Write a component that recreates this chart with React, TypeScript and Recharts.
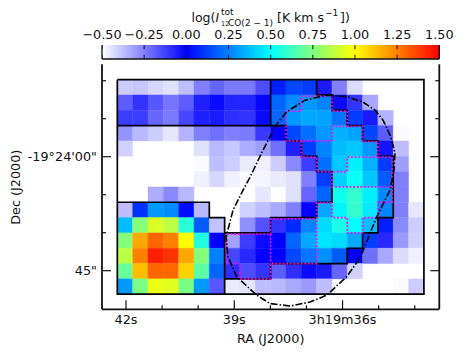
import { ComposedChart, Line, XAxis, YAxis, ReferenceArea, ReferenceLine } from "recharts";

const FONT = "DejaVu Sans";
const INK = "#111";

// log intensity per map pixel, north row first, east column first (null = masked)
const row00 = [-0.4, -0.39, -0.42, -0.44, -0.37, -0.25, -0.2, -0.24, -0.24, -0.15, 0.06, 0.14, 0.12, -0.05, -0.25, -0.43, null, null, null, null];
const row01 = [-0.18, -0.1, -0.17, -0.23, -0.18, -0.06, -0.02, -0.07, -0.07, -0.01, 0.2, 0.27, 0.3, 0.26, -0.02, -0.1, -0.33, null, null, null];
const row02 = [-0.12, -0.12, -0.2, -0.24, -0.14, -0.06, -0.05, -0.09, -0.1, -0.02, 0.2, 0.3, 0.33, 0.32, 0.23, 0.12, -0.05, -0.35, null, null];
const row03 = [-0.29, -0.36, -0.4, -0.45, -0.35, -0.25, -0.22, -0.25, -0.24, -0.11, 0.0, 0.14, 0.22, 0.3, 0.35, 0.32, 0.14, -0.18, -0.49, null];
const row04 = [-0.41, null, null, null, null, -0.44, -0.36, -0.39, -0.34, -0.31, -0.22, -0.06, 0.12, 0.26, 0.37, 0.39, 0.3, -0.04, -0.37, null];
const row05 = [null, null, null, null, null, -0.49, -0.37, -0.4, -0.46, -0.47, -0.4, -0.27, -0.12, 0.22, 0.39, 0.47, 0.35, 0.12, -0.31, null];
const row06 = [null, null, null, null, null, -0.47, -0.42, -0.47, -0.49, -0.48, -0.46, -0.44, -0.25, 0.12, 0.41, 0.52, 0.39, 0.18, -0.25, null];
const row07 = [null, null, -0.34, -0.27, -0.36, null, null, null, null, -0.45, null, -0.44, -0.2, 0.2, 0.53, 0.6, 0.47, 0.27, -0.25, null];
const row08 = [-0.37, 0.1, 0.3, 0.27, 0.02, -0.36, null, null, -0.41, -0.37, -0.33, -0.25, 0.0, 0.33, 0.48, 0.6, 0.46, 0.26, -0.25, -0.45];
const row09 = [0.37, 0.76, 0.93, 0.87, 0.58, 0.18, -0.38, null, -0.28, -0.16, -0.1, 0.08, 0.26, 0.43, 0.55, 0.5, 0.37, 0.06, -0.27, -0.4];
const row10 = [0.76, 1.17, 1.3, 1.25, 1.0, 0.56, 0.0, -0.32, -0.12, -0.02, 0.0, 0.2, 0.33, 0.45, 0.43, 0.33, 0.12, -0.08, -0.3, -0.41];
const row11 = [0.87, 1.25, 1.44, 1.4, 1.17, 0.76, 0.25, -0.14, -0.08, 0.0, 0.0, 0.14, 0.23, 0.28, 0.18, 0.0, -0.22, -0.33, -0.43, -0.47];
const row12 = [0.7, 1.13, 1.3, 1.3, 1.09, 0.68, 0.2, -0.09, -0.15, -0.1, -0.18, -0.09, -0.02, -0.05, -0.2, -0.41, null, null, null, null];
const row13 = [0.3, 0.74, 0.96, 0.94, 0.74, 0.3, -0.17, -0.46, -0.45, -0.37, -0.36, -0.33, -0.3, -0.37, null, null, null, null, -0.49, -0.4];
const mapRows = [row00, row01, row02, row03, row04, row05, row06, row07, row08, row09, row10, row11, row12, row13];

// RA seconds and Dec arcsec offset from -19:24:00
const raTicks = [42, 41, 40, 39, 38, 37, 36, 35, 34];
const raLabels: Record<number, string> = { 42: "42s", 39: "39s", 36: "3h19m36s" };
const decTicks = [10, 5, 0, -5, -10, -15];
const decLabels: Record<number, string> = { 0: "-19°24'00\"", [-15]: "45\"" };
const cbarTicks = [-0.5, -0.25, 0, 0.25, 0.5, 0.75, 1, 1.25, 1.5];

// contours in map pixel units [column, row]
const outerBox = [[0, 0], [20, 0], [20, 14], [0, 14], [0, 0]];
const boxTopLeft = [[0, 3], [10, 3], [10, 0]];
const boxBottomLeft = [[0, 8], [6, 8], [6, 9], [7, 9], [7, 14]];
const contourInner = [[10, 3], [11, 3], [11, 4], [12, 4], [12, 5], [13, 5], [13, 6], [14, 6], [14, 8], [13, 8], [13, 9], [10, 9], [10, 10], [7, 10]];
const contourOuter = [[7, 13], [10, 13], [10, 12], [15, 12], [15, 11], [16, 11], [16, 10], [17, 10], [17, 9], [18, 9], [18, 5], [17, 5], [17, 4], [16, 4], [16, 3], [15, 3], [15, 2], [14, 2], [14, 1], [13, 1], [13, 0]];

const regionTop = [[12, 1.07], [14, 1.07], [14, 2.05], [15, 2.05], [15, 3.05], [14, 3.05], [14, 4], [11, 4], [11, 2.05], [12, 2.05], [12, 1.07]];
const regionMid = [[15, 3.05], [16, 3.05], [16, 4.05], [17, 4.05], [17, 5.05], [15, 5.05], [15, 6], [14, 6], [14, 7], [17.92, 7]];
const regionLow = [[12, 4], [12, 5.05], [13, 5.05], [13, 6], [14, 6]];
const regionRight = [[17, 5.05], [17.92, 5.05], [17.92, 8], [17, 8], [17, 9], [16, 9], [16, 10], [15, 10], [15, 9], [14, 9], [14, 8.05], [13, 8.05], [13, 12], [10, 12], [10, 13], [8, 13], [8, 12], [7.12, 12], [7.12, 10.08], [10, 10.08], [10, 9.08], [13, 9.08]];
const regionDivide = [[10, 10.08], [10, 12]];

const beamEdge = [[13.66, 1.01], [14.96, 1.11], [16.03, 1.47], [16.81, 1.99], [17.33, 2.64], [17.85, 3.75], [18.11, 4.79], [18.05, 5.9], [17.79, 7.21], [16.92, 8.95], [15.83, 11.64], [14.96, 12.86], [13.66, 14.06], [12.57, 14.51], [11.27, 14.77], [9.96, 14.61], [9.09, 14.06], [7.79, 12.86], [7.22, 11.56], [7.09, 10.27], [7.55, 8.51], [8.2, 7.21], [8.66, 6.36], [9.5, 4.6], [10.4, 2.9], [11.05, 2.1], [12.24, 1.34], [13.66, 1.01]];

const RA_EAST = 42.665;
const RA_WEST = 33.32;
const DEC_NORTH = 12.16;
const DEC_SOUTH = -20.08;
const RA_STEP = 0.4247;
const DEC_STEP = 2.017;

const colToRa = (c: number) => RA_EAST - (c + 1) * RA_STEP;
const rowToDec = (r: number) => DEC_NORTH - (r + 1) * DEC_STEP;
const toPoints = (path: number[][]) => path.map(([c, r]) => ({ x: colToRa(c), y: rowToDec(r) }));

function colorOf(v: number) {
  const mix = (a: number[], b: number[], t: number) =>
    `rgb(${a.map((p, i) => Math.round(p + (b[i] - p) * t)).join(",")})`;
  if (v < 0) return mix([255, 255, 255], [0, 0, 255], Math.max(0, (v + 0.5) / 0.5));
  if (v < 0.5) return mix([0, 0, 255], [0, 255, 255], v / 0.5);
  if (v < 1) return mix([0, 255, 255], [255, 255, 0], (v - 0.5) / 0.5);
  return mix([255, 255, 0], [255, 0, 0], Math.min(1, (v - 1) / 0.5));
}

const RaTick = ({ x, y, payload, top }: any) => {
  const major = raLabels[payload.value] !== undefined;
  const len = major ? 9 : 4;
  return (
    <g>
      <line x1={x} x2={x} y1={y} y2={top ? y + len : y - len} stroke={INK} strokeWidth={1.2} />
      {!top && major && (
        <text x={x} y={y + 15} textAnchor="middle" fontFamily={FONT} fontSize={12.8} fill={INK}>
          {raLabels[payload.value]}
        </text>
      )}
    </g>
  );
};

const DecTick = ({ x, y, payload, right }: any) => {
  const label = decLabels[payload.value];
  const len = label ? 9 : 4;
  return (
    <g>
      <line x1={x} x2={right ? x - len : x + len} y1={y} y2={y} stroke={INK} strokeWidth={1.2} />
      {!right && label && (
        <text x={x - 5} y={y + 4.5} textAnchor="end" fontFamily={FONT} fontSize={12.8} fill={INK}>
          {label}
        </text>
      )}
    </g>
  );
};

const Title = () => (
  <svg width={463} height={40} style={{ position: "absolute", left: 0, top: 0 }}>
    <g fontFamily={FONT} fill={INK}>
      <text x={191.5} y={22} fontSize={12.5}>log(</text>
      <text x={215.5} y={22} fontSize={12.5} fontStyle="italic">I</text>
      <text x={221} y={15} fontSize={9}>tot</text>
      <text x={221} y={26} fontSize={6.5}>12</text>
      <text x={228} y={26} fontSize={9}>CO(2 − 1)</text>
      <text x={277} y={22} fontSize={12.5}>[K km s</text>
      <text x={325} y={16} fontSize={9}>−1</text>
      <text x={340} y={22} fontSize={12.5}>])</text>
    </g>
  </svg>
);

const Colorbar = () => (
  <div style={{ position: "absolute", left: 0, top: 0 }}>
    <ComposedChart width={463} height={70} margin={{ top: 45, right: 13.7, bottom: 1, left: 92 }}>
      <defs>
        <linearGradient id="cbarFill" x1="0" y1="0" x2="1" y2="0">
          {cbarTicks
            .filter((t) => (t * 4) % 2 === 0)
            .map((t) => (
              <stop key={t} offset={`${((t + 0.5) / 2) * 100}%`} stopColor={colorOf(t)} />
            ))}
        </linearGradient>
      </defs>
      <ReferenceArea xAxisId="bar" yAxisId="bar" x1={-0.5} x2={1.5} y1={0} y2={1} fill="url(#cbarFill)" fillOpacity={1} stroke="none" />
      <XAxis xAxisId="bar" type="number" dataKey="x" domain={[-0.5, 1.5]} allowDataOverflow height={10}
        axisLine={{ stroke: INK, strokeWidth: 1.3 }} tick={false} tickLine={false} />
      <XAxis xAxisId="barTop" orientation="top" type="number" dataKey="x" domain={[-0.5, 1.5]} allowDataOverflow height={0}
        axisLine={{ stroke: INK, strokeWidth: 1.3 }} tick={false} tickLine={false} />
      <YAxis yAxisId="bar" type="number" domain={[0, 1]} allowDataOverflow width={10} tick={false} tickLine={false} axisLine={{ stroke: INK, strokeWidth: 1.3 }} />
      <YAxis yAxisId="barRight" orientation="right" type="number" domain={[0, 1]} allowDataOverflow width={10} tick={false} tickLine={false} axisLine={{ stroke: INK, strokeWidth: 1.3 }} />
      {cbarTicks.map((t) => (
        <ReferenceLine key={`label-${t}`} xAxisId="bar" yAxisId="bar" segment={[{ x: t, y: 0.7 }, { x: t, y: 1 }]} stroke="none"
          label={(p: any) => (
            <text x={p.viewBox.x} y={p.viewBox.y - 6} textAnchor="middle" fontFamily={FONT} fontSize={12.8} fill={INK}>
              {t.toFixed(2).replace("-", "\u2212")}
            </text>
          )}
        />
      ))}
      {cbarTicks.map((t) => (
        <Line key={`low-${t}`} xAxisId="bar" yAxisId="bar" data={[{ x: t, y: 0 }, { x: t, y: 0.3 }]} dataKey="y" type="linear" stroke={INK} strokeWidth={1} dot={false} isAnimationActive={false} />
      ))}
      {cbarTicks.map((t) => (
        <Line key={`up-${t}`} xAxisId="bar" yAxisId="bar" data={[{ x: t, y: 0.7 }, { x: t, y: 1 }]} dataKey="y" type="linear" stroke={INK} strokeWidth={1} dot={false} isAnimationActive={false} />
      ))}
    </ComposedChart>
  </div>
);

export default function App() {
  const cells = mapRows.flatMap((vals, r) =>
    vals.map((v, c) =>
      v === null ? null : (
        <ReferenceArea
          key={`${r}-${c}`}
          x1={colToRa(c)}
          x2={colToRa(c + 1)}
          y1={rowToDec(r + 1)}
          y2={rowToDec(r)}
          fill={colorOf(v)}
          fillOpacity={1}
          stroke={colorOf(v)}
          strokeWidth={0.4}
        />
      )
    )
  );
  const blackPaths = [outerBox, boxTopLeft, boxBottomLeft, contourInner, contourOuter];
  const magentaPaths = [regionTop, regionMid, regionLow, regionRight, regionDivide];
  const axisLine = { stroke: INK, strokeWidth: 1.8 };

  return (
    <div style={{ position: "absolute", left: 0, top: 0, width: 463, height: 354 }}>
      <Title />
      <Colorbar />
      <div style={{ position: "absolute", left: 0, top: 0 }}>
        <ComposedChart width={463} height={354} margin={{ top: 64.3, right: 13.7, bottom: 14.7, left: 2 }}>
          <XAxis type="number" dataKey="x" domain={[RA_WEST, RA_EAST]} reversed allowDataOverflow ticks={raTicks} interval={0} height={30}
            tickSize={0} tickMargin={0} axisLine={axisLine} tick={(p: any) => <RaTick {...p} />}
            label={{ value: "RA (J2000)", position: "insideBottom", offset: 0, dy: 4, fontFamily: FONT, fontSize: 12.8, fill: INK }} />
          <XAxis xAxisId="top" orientation="top" type="number" dataKey="x" domain={[RA_WEST, RA_EAST]} reversed allowDataOverflow ticks={raTicks} interval={0} height={0}
            tickSize={0} tickMargin={0} axisLine={axisLine} tick={(p: any) => <RaTick {...p} top />} />
          <YAxis type="number" dataKey="y" domain={[DEC_SOUTH, DEC_NORTH]} allowDataOverflow ticks={decTicks} interval={0} width={100}
            tickSize={0} tickMargin={0} axisLine={axisLine} tick={(p: any) => <DecTick {...p} />}
            label={{ value: "Dec (J2000)", angle: -90, position: "insideLeft", offset: 0, dx: 13, dy: 38, fontFamily: FONT, fontSize: 12.8, fill: INK }} />
          <YAxis yAxisId="right" orientation="right" type="number" dataKey="y" domain={[DEC_SOUTH, DEC_NORTH]} allowDataOverflow ticks={decTicks} interval={0} width={10}
            tickSize={0} tickMargin={0} axisLine={axisLine} tick={(p: any) => <DecTick {...p} right />} />
          {cells}
          {blackPaths.map((path, i) => (
            <Line key={`black-${i}`} data={toPoints(path)} dataKey="y" type="linear" stroke="#000" strokeWidth={1.7} dot={false} isAnimationActive={false} />
          ))}
          {magentaPaths.map((path, i) => (
            <Line key={`magenta-${i}`} data={toPoints(path)} dataKey="y" type="linear" stroke="#ff00ff" strokeWidth={1.8} strokeDasharray="1.8 1.8" dot={false} isAnimationActive={false} />
          ))}
          <Line data={toPoints(beamEdge)} dataKey="y" type="linear" stroke="#000" strokeWidth={1.6} strokeDasharray="7 2 1.5 2" dot={false} isAnimationActive={false} />
        </ComposedChart>
      </div>
    </div>
  );
}
